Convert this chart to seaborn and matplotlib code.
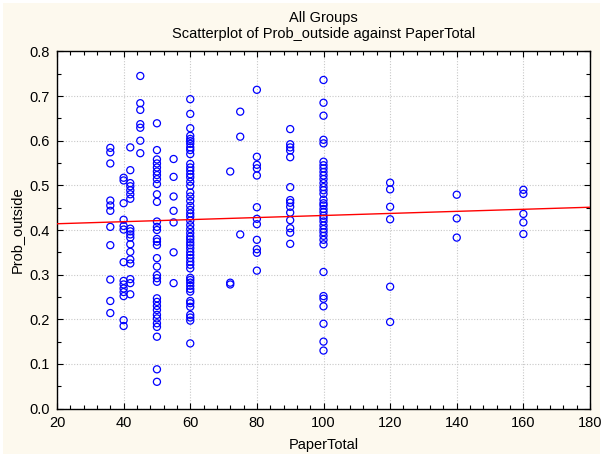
import matplotlib
matplotlib.use("Agg")
import matplotlib.pyplot as plt
from matplotlib.patches import Rectangle
from matplotlib.ticker import MultipleLocator
import numpy as np
import pandas as pd
import seaborn as sns

# PaperTotal levels and the Prob_outside values observed at each level
paper_levels = [36, 40, 42, 45, 50, 55, 60, 72, 75, 80, 90, 100, 120, 140, 160]

prob_36 = [0.584, 0.574, 0.549, 0.466, 0.455, 0.443, 0.407, 0.366, 0.289, 0.241, 0.214]
prob_40 = [0.517, 0.511, 0.460, 0.423, 0.409, 0.401, 0.328, 0.286, 0.278, 0.269,
           0.261, 0.252, 0.198, 0.185]
prob_42 = [0.585, 0.534, 0.505, 0.498, 0.489, 0.480, 0.470, 0.403, 0.397, 0.390,
           0.383, 0.368, 0.351, 0.334, 0.325, 0.290, 0.281, 0.256]
prob_45 = [0.745, 0.684, 0.669, 0.637, 0.629, 0.600, 0.572]
prob_50 = [0.639, 0.579, 0.558, 0.549, 0.540, 0.531, 0.523, 0.514, 0.503, 0.480,
           0.463, 0.419, 0.407, 0.400, 0.380, 0.374, 0.366, 0.337, 0.318, 0.299,
           0.292, 0.284, 0.247, 0.239, 0.230, 0.221, 0.210, 0.202, 0.191, 0.183,
           0.161, 0.088, 0.060]
prob_55 = [0.559, 0.519, 0.475, 0.443, 0.417, 0.350, 0.281]
prob_60 = [0.693, 0.660, 0.628, 0.611, 0.604, 0.599, 0.593, 0.585, 0.579, 0.570,
           0.548, 0.540, 0.533, 0.525, 0.518, 0.508, 0.499, 0.484, 0.475, 0.465,
           0.454, 0.445, 0.437, 0.430, 0.421, 0.411, 0.402, 0.393, 0.385, 0.379,
           0.372, 0.366, 0.359, 0.351, 0.344, 0.337, 0.329, 0.322, 0.314, 0.293,
           0.288, 0.282, 0.275, 0.268, 0.262, 0.241, 0.236, 0.228, 0.210, 0.204,
           0.197, 0.146]
prob_72 = [0.531, 0.282, 0.278]
prob_75 = [0.665, 0.609, 0.390]
prob_80 = [0.714, 0.564, 0.546, 0.538, 0.522, 0.451, 0.425, 0.413, 0.378, 0.357,
           0.349, 0.309]
prob_90 = [0.626, 0.592, 0.585, 0.578, 0.563, 0.496, 0.467, 0.461, 0.452, 0.439,
           0.422, 0.404, 0.394, 0.369]
prob_100 = [0.736, 0.685, 0.656, 0.602, 0.594, 0.553, 0.545, 0.538, 0.530, 0.522,
            0.514, 0.505, 0.496, 0.489, 0.481, 0.468, 0.460, 0.455, 0.447, 0.440,
            0.432, 0.426, 0.419, 0.410, 0.402, 0.395, 0.387, 0.378, 0.368, 0.306,
            0.252, 0.246, 0.229, 0.190, 0.150, 0.130]
prob_120 = [0.506, 0.491, 0.452, 0.424, 0.273, 0.194]
prob_140 = [0.479, 0.426, 0.383]
prob_160 = [0.490, 0.481, 0.436, 0.417, 0.391]

groups = [prob_36, prob_40, prob_42, prob_45, prob_50, prob_55, prob_60, prob_72,
          prob_75, prob_80, prob_90, prob_100, prob_120, prob_140, prob_160]

# Linear fit line across the axis range
fit_x = [20, 180]
fit_y = [0.414, 0.451]

x_ticks = [20, 40, 60, 80, 100, 120, 140, 160, 180]
y_ticks = [0.0, 0.1, 0.2, 0.3, 0.4, 0.5, 0.6, 0.7, 0.8]

df = pd.DataFrame({
    "PaperTotal": np.concatenate([[lvl] * len(g) for lvl, g in zip(paper_levels, groups)]),
    "Prob_outside": np.concatenate(groups),
})
fit_df = pd.DataFrame({"PaperTotal": fit_x, "Prob_outside": fit_y})

sns.set_theme(style="white")
plt.rcParams["font.family"] = ["Liberation Sans", "DejaVu Sans"]

fig = plt.figure(figsize=(6.03, 4.57), dpi=100, facecolor="white")
fig.patches.append(Rectangle((3 / 603, 3 / 457), 597 / 603, 451 / 457,
                             transform=fig.transFigure, facecolor="#fdf9ee",
                             edgecolor="none", zorder=-10))
ax = fig.add_axes([57 / 603, 1 - 408.6 / 457, 533 / 603, 357.2 / 457])
ax.set_facecolor("white")

ax.set_xlim(x_ticks[0], x_ticks[-1])
ax.set_ylim(y_ticks[0], y_ticks[-1])

sns.scatterplot(data=df, x="PaperTotal", y="Prob_outside", ax=ax, s=26,
                facecolors="none", edgecolor="#0000ff", linewidth=0.9, zorder=3)
sns.lineplot(data=fit_df, x="PaperTotal", y="Prob_outside", ax=ax,
             color="#ff0000", lw=1.0, zorder=4)

ax.set_xticks(x_ticks)
ax.set_yticks(y_ticks)
ax.set_xticklabels([str(t) for t in x_ticks])
ax.set_yticklabels([f"{t:.1f}" for t in y_ticks])
ax.xaxis.set_minor_locator(MultipleLocator(4))
ax.yaxis.set_minor_locator(MultipleLocator(0.05))
ax.tick_params(which="both", direction="in", top=True, right=True,
               bottom=True, left=True, color="black", width=0.8)
ax.tick_params(which="major", length=4, labelsize=10.5, pad=5, labelcolor="black")
ax.tick_params(which="minor", length=3)
ax.grid(True, which="major", color="#c8c8c8", linestyle=(0, (1, 1.5)), lw=0.8)
for s in ax.spines.values():
    s.set_visible(True)
    s.set_color("black")
    s.set_linewidth(1.0)

ax.set_xlabel("PaperTotal", fontsize=10.5, labelpad=6, color="black")
ax.set_ylabel("Prob_outside", fontsize=10.5, labelpad=4, color="black")

fig.text(323.5 / 603, 1 - 18 / 457, "All Groups", ha="center", va="center",
         fontsize=10.5, color="black")
fig.text(323.5 / 603, 1 - 34 / 457, "Scatterplot of Prob_outside against PaperTotal",
         ha="center", va="center", fontsize=10.5, color="black")

fig.savefig("out.png", dpi=100, facecolor=fig.get_facecolor())
